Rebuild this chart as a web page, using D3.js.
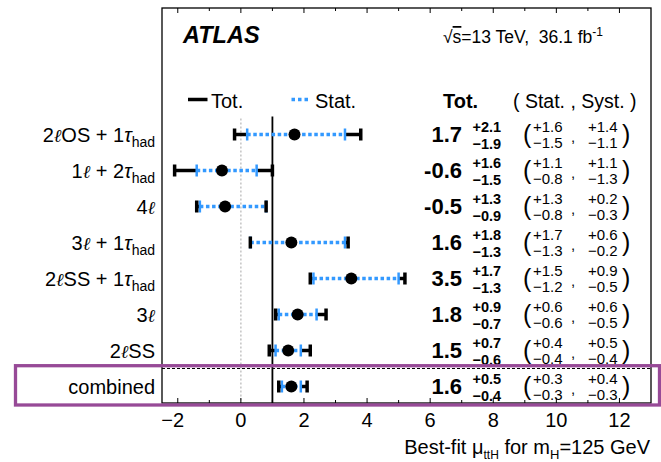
<!DOCTYPE html>
<html>
<head>
<meta charset="utf-8">
<script src="https://cdn.jsdelivr.net/npm/d3@7"></script>
<style>
  html, body { margin: 0; padding: 0; background: #fff; }
  text { font-family: "Liberation Sans", Arial, Helvetica, sans-serif; }
</style>
</head>
<body>
<script>
// ttH signal-strength measurements per final state
const categories = [
  "2ℓOS + 1τ_{had}",
  "1ℓ + 2τ_{had}",
  "4ℓ",
  "3ℓ + 1τ_{had}",
  "2ℓSS + 1τ_{had}",
  "3ℓ",
  "2ℓSS",
  "combined"
];
const mu     = [1.7, -0.6, -0.5, 1.6, 3.5, 1.8, 1.5, 1.6];
const totUp  = [2.1, 1.6, 1.3, 1.8, 1.7, 0.9, 0.7, 0.5];
const totDn  = [1.9, 1.5, 0.9, 1.3, 1.3, 0.7, 0.6, 0.4];
const statUp = [1.6, 1.1, 1.3, 1.7, 1.5, 0.6, 0.4, 0.3];
const statDn = [1.5, 0.8, 0.8, 1.3, 1.2, 0.6, 0.4, 0.3];
const systUp = [1.4, 1.1, 0.2, 0.6, 0.9, 0.6, 0.5, 0.4];
const systDn = [1.1, 1.3, 0.3, 0.2, 0.5, 0.5, 0.4, 0.3];
const xTickLabels = [-2, 0, 2, 4, 6, 8, 10, 12];
const xMinorTicks = d3.range(-2, 13, 1);

const W = 661, H = 462;
const frame = { left: 162, right: 651, top: 8, bottom: 403 };
const BLUE = "#3399ff", PURPLE = "#974a97";

const svg = d3.select("body").append("svg")
  .attr("width", W).attr("height", H)
  .style("display", "block");
svg.append("rect").attr("width", W).attr("height", H).attr("fill", "#fff");

const x = d3.scaleLinear().domain([-2.5, 13]).range([frame.left, frame.right]);
const y = d3.scalePoint().domain(categories).range([134.5, 386.5]);
const rowTop = y(categories[0]) - 18;

const rows = categories.map((c, i) => ({
  cat: c, mu: mu[i], tu: totUp[i], td: totDn[i],
  su: statUp[i], sd: statDn[i], yu: systUp[i], yd: systDn[i]
}));

// reference lines at mu = 0 (dotted) and mu = 1 (SM)
svg.append("line")
  .attr("x1", x(0)).attr("x2", x(0)).attr("y1", rowTop + 2).attr("y2", frame.bottom)
  .attr("stroke", "#c4c4c4").attr("stroke-width", 1.5).attr("stroke-dasharray", "2,2");
svg.append("line")
  .attr("x1", x(1)).attr("x2", x(1)).attr("y1", rowTop).attr("y2", frame.bottom)
  .attr("stroke", "#000").attr("stroke-width", 1.8);

// separator above the combined result
const sepY = (y(categories[6]) + y(categories[7])) / 2;
svg.append("line")
  .attr("x1", frame.left).attr("x2", frame.right).attr("y1", sepY).attr("y2", sepY)
  .attr("stroke", "#000").attr("stroke-width", 1.2).attr("stroke-dasharray", "3,2");

// frame
svg.append("rect")
  .attr("x", frame.left).attr("y", frame.top)
  .attr("width", frame.right - frame.left).attr("height", frame.bottom - frame.top)
  .attr("fill", "none").attr("stroke", "#000").attr("stroke-width", 1.3);

// ticks on bottom and top, pointing inward
const isMajor = v => v % 2 === 0;
svg.append("g").selectAll("line").data(xMinorTicks).join("line")
  .attr("x1", d => x(d)).attr("x2", d => x(d))
  .attr("y1", frame.bottom).attr("y2", d => frame.bottom - (isMajor(d) ? 5 : 3))
  .attr("stroke", "#000").attr("stroke-width", 1);
svg.append("g").selectAll("line").data(xMinorTicks).join("line")
  .attr("x1", d => x(d)).attr("x2", d => x(d))
  .attr("y1", frame.top).attr("y2", d => frame.top + (isMajor(d) ? 5 : 3))
  .attr("stroke", "#000").attr("stroke-width", 1);

// bottom axis labels
const fmt = d3.format("d");
svg.append("g").selectAll("text").data(xTickLabels).join("text")
  .attr("x", d => x(d) - (d < 0 ? 5 : 0)).attr("y", 427)
  .attr("text-anchor", "middle").attr("font-size", 20)
  .text(d => fmt(d));

// axis title
const xt = svg.append("text").attr("x", 650).attr("y", 454)
  .attr("text-anchor", "end").attr("font-size", 20);
xt.append("tspan").text("Best-fit μ");
xt.append("tspan").attr("font-size", 12).attr("dy", 5).text("ttH");
xt.append("tspan").attr("dy", -5).text(" for m");
xt.append("tspan").attr("font-size", 13).attr("dy", 5).text("H");
xt.append("tspan").attr("dy", -5).text("=125 GeV");

// ATLAS label and run conditions
svg.append("text").attr("x", 183).attr("y", 43)
  .attr("font-size", 23.5).attr("font-weight", "bold").attr("font-style", "italic")
  .text("ATLAS");
const en = svg.append("text").attr("x", 443).attr("y", 43).attr("font-size", 17.5)
  .attr("xml:space", "preserve");
en.append("tspan").text("√");
en.append("tspan").style("text-decoration", "overline").text("s");
en.append("tspan").text("=13 TeV,  36.1 fb");
en.append("tspan").attr("font-size", 12).attr("dy", -7).text("-1");

// legend
const legY = 99.5;
svg.append("line").attr("x1", 188).attr("x2", 207.5).attr("y1", legY).attr("y2", legY)
  .attr("stroke", "#000").attr("stroke-width", 3.5);
svg.append("text").attr("x", 211).attr("y", 107.5).attr("font-size", 20).text("Tot.");
svg.append("line").attr("x1", 291.5).attr("x2", 311).attr("y1", legY).attr("y2", legY)
  .attr("stroke", BLUE).attr("stroke-width", 3.5).attr("stroke-dasharray", "3.5,3");
svg.append("text").attr("x", 315).attr("y", 107.5).attr("font-size", 20).text("Stat.");
svg.append("text").attr("x", 443).attr("y", 107.5).attr("font-size", 20)
  .attr("font-weight", "bold").text("Tot.");
svg.append("text").attr("x", 513).attr("y", 107.5).attr("font-size", 19.5)
  .attr("xml:space", "preserve").text("( Stat. , Syst. )");

// category labels with italic ℓ / τ and subscripts
function richLabel(sel, s) {
  const parts = s.split(/(_\{[^}]*\}|ℓ|τ)/).filter(p => p.length);
  let sub = false;
  parts.forEach(p => {
    if (p.startsWith("_{")) {
      sel.append("tspan").attr("font-size", 14).attr("dy", 5).text(p.slice(2, -1));
      sub = true;
    } else {
      const t = sel.append("tspan").text(p);
      if (sub) { t.attr("dy", -5); sub = false; }
      if (p === "ℓ" || p === "τ") t.attr("font-style", "italic");
      if (p === "ℓ") t.attr("font-family", "'DejaVu Serif', serif").attr("font-size", 18);
    }
  });
}
svg.append("g").selectAll("text").data(rows).join("text")
  .attr("x", 155).attr("y", d => y(d.cat) + 7)
  .attr("text-anchor", "end").attr("font-size", 20)
  .attr("xml:space", "preserve")
  .each(function (d) { richLabel(d3.select(this), d.cat); });

// error bars
const g = svg.append("g");
rows.forEach(d => {
  const cy = y(d.cat);
  const tLo = d.mu - d.td, tHi = d.mu + d.tu;
  const sLo = d.mu - d.sd, sHi = d.mu + d.su;
  // total uncertainty, visible outside the statistical band
  [[tLo, sLo], [sHi, tHi]].forEach(([a, b]) => {
    if (b > a) g.append("line").attr("x1", x(a)).attr("x2", x(b))
      .attr("y1", cy).attr("y2", cy).attr("stroke", "#000").attr("stroke-width", 3.5);
  });
  // statistical uncertainty
  g.append("line").attr("x1", x(sLo)).attr("x2", x(sHi)).attr("y1", cy).attr("y2", cy)
    .attr("stroke", BLUE).attr("stroke-width", 3.5).attr("stroke-dasharray", "3.5,2.6");
  [sLo, sHi].forEach(v => g.append("line")
    .attr("x1", x(v)).attr("x2", x(v)).attr("y1", cy - 6).attr("y2", cy + 6)
    .attr("stroke", BLUE).attr("stroke-width", 2.5));
  [tLo, tHi].forEach(v => g.append("line")
    .attr("x1", x(v)).attr("x2", x(v)).attr("y1", cy - 6).attr("y2", cy + 6)
    .attr("stroke", "#000").attr("stroke-width", 3.5));
  g.append("circle").attr("cx", x(d.mu)).attr("cy", cy).attr("r", 6).attr("fill", "#000");
});

// numeric summary per row
const f1 = v => v.toFixed(1);
const num = svg.append("g");
rows.forEach(d => {
  const cy = y(d.cat);
  num.append("text").attr("x", 462).attr("y", cy + 7.7).attr("text-anchor", "end")
    .attr("font-size", 22).attr("font-weight", "bold").text(f1(d.mu));
  num.append("text").attr("x", 472.5).attr("y", cy - 2.5).attr("font-size", 14.5)
    .attr("font-weight", "bold").text("+" + f1(d.tu));
  num.append("text").attr("x", 472.5).attr("y", cy + 14).attr("font-size", 14.5)
    .attr("font-weight", "bold").text("−" + f1(d.td));
  num.append("text").attr("x", 523).attr("y", cy + 8).attr("font-size", 25).text("(");
  num.append("text").attr("x", 533).attr("y", cy - 3).attr("font-size", 15).text("+" + f1(d.su));
  num.append("text").attr("x", 533).attr("y", cy + 13).attr("font-size", 15).text("−" + f1(d.sd));
  num.append("text").attr("x", 571).attr("y", cy + 7).attr("font-size", 15).text(",");
  num.append("text").attr("x", 588).attr("y", cy - 3).attr("font-size", 15).text("+" + f1(d.yu));
  num.append("text").attr("x", 588).attr("y", cy + 13).attr("font-size", 15).text("−" + f1(d.yd));
  num.append("text").attr("x", 622).attr("y", cy + 8).attr("font-size", 25).text(")");
});

// highlight box around the combined result
svg.append("rect")
  .attr("x", 15.5).attr("y", sepY - 2.8)
  .attr("width", 644).attr("height", frame.bottom + 2 - (sepY - 2.8))
  .attr("fill", "none").attr("stroke", PURPLE).attr("stroke-width", 3.3);
</script>
</body>
</html>
